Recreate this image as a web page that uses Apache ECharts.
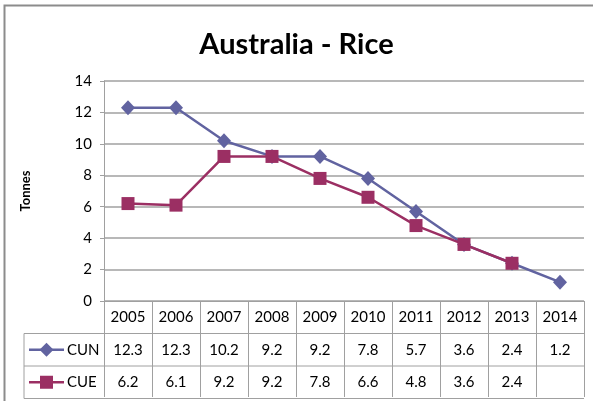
<!DOCTYPE html>
<html>
<head>
<meta charset="utf-8">
<script src="https://cdn.jsdelivr.net/npm/echarts@6/dist/echarts.min.js"></script>
<style>
  html, body { margin: 0; padding: 0; background: #ffffff; }
  #chart { width: 593px; height: 401px; }
</style>
</head>
<body>
<div id="chart"></div>
<script>
// Rice quantities for Australia, in tonnes
const years = ['2005', '2006', '2007', '2008', '2009', '2010', '2011', '2012', '2013', '2014'];
const cunValues = [12.3, 12.3, 10.2, 9.2, 9.2, 7.8, 5.7, 3.6, 2.4, 1.2];
const cueValues = [6.2, 6.1, 9.2, 9.2, 7.8, 6.6, 4.8, 3.6, 2.4, null];
const yTicks = [0, 2, 4, 6, 8, 10, 12, 14];

const CUN_COLOR = '#6163a0';
const CUE_COLOR = '#9b2f63';
const GRID_COLOR = '#a0a0a0';
const FONT = 'Lato, "Open Sans", sans-serif';

const chart = echarts.init(document.getElementById('chart'), null, { renderer: 'canvas' });

const gridLeft = 104, gridRight = 9, gridTop = 81, gridBottom = 100;

chart.setOption({
  animation: false,
  backgroundColor: '#ffffff',
  title: {
    text: 'Australia - Rice',
    left: 'center',
    top: 25,
    textStyle: { fontFamily: FONT, fontWeight: 'bold', fontSize: 29, color: '#000000' }
  },
  grid: { left: gridLeft, right: gridRight, top: gridTop, bottom: gridBottom, containLabel: false },
  xAxis: {
    type: 'category',
    data: years,
    boundaryGap: true,
    axisLine: { show: true, lineStyle: { color: GRID_COLOR, width: 1 } },
    axisTick: { show: true, length: 96, alignWithLabel: false, lineStyle: { color: GRID_COLOR, width: 1 } },
    axisLabel: { margin: 9, fontFamily: FONT, fontSize: 15, color: '#000000', interval: 0 }
  },
  yAxis: {
    type: 'value',
    min: yTicks[0],
    max: yTicks[yTicks.length - 1],
    interval: 2,
    name: 'Tonnes',
    nameLocation: 'middle',
    nameGap: 72,
    nameRotate: 90,
    nameTextStyle: { fontFamily: FONT, fontWeight: 'bold', fontSize: 13, color: '#000000' },
    axisLine: { show: true, lineStyle: { color: GRID_COLOR, width: 1 } },
    axisTick: { show: true, length: 4, lineStyle: { color: GRID_COLOR } },
    axisLabel: { margin: 12, fontFamily: FONT, fontSize: 15, color: '#000000' },
    splitLine: { show: true, lineStyle: { color: GRID_COLOR, width: 1.5 } }
  },
  series: [
    {
      name: 'CUN',
      type: 'line',
      data: cunValues,
      symbol: 'diamond',
      symbolSize: [14, 15],
      lineStyle: { color: CUN_COLOR, width: 2.5 },
      itemStyle: { color: CUN_COLOR },
      z: 2
    },
    {
      name: 'CUE',
      type: 'line',
      data: cueValues,
      symbol: 'rect',
      symbolSize: 13,
      connectNulls: false,
      lineStyle: { color: CUE_COLOR, width: 2.5 },
      itemStyle: { color: CUE_COLOR },
      z: 3
    }
  ]
});

// Data table under the axis: one row per series, with a legend key on the left
function buildTable() {
  const axisY = chart.convertToPixel({ yAxisIndex: 0 }, 0);
  const rowH = 32.5;
  const plotRight = 593 - gridRight;
  const keyLeft = 24;
  const rows = [
    { name: 'CUN', values: cunValues, color: CUN_COLOR, symbol: 'diamond' },
    { name: 'CUE', values: cueValues, color: CUE_COLOR, symbol: 'rect' }
  ];
  const elements = [];

  // outer frame of the chart area
  elements.push({
    type: 'rect', shape: { x: 4.5, y: 5.5, width: 600, height: 420 },
    style: { fill: null, stroke: '#8c8c8c', lineWidth: 2 }, silent: true
  });

  rows.forEach((row, r) => {
    const top = axisY + rowH * (r + 1);
    const mid = top + rowH / 2;
    // horizontal rule at the top of the row
    elements.push({
      type: 'line', shape: { x1: keyLeft, y1: top, x2: plotRight, y2: top },
      style: { stroke: GRID_COLOR, lineWidth: 1 }, silent: true
    });
    // values
    row.values.forEach((v, i) => {
      if (v === null) return;
      const x = chart.convertToPixel({ xAxisIndex: 0 }, years[i]);
      elements.push({
        type: 'text',
        style: {
          text: v.toFixed(1), x: x, y: mid, align: 'center', verticalAlign: 'middle',
          font: '15px ' + FONT, fill: '#000000'
        },
        silent: true
      });
    });
    // legend key: line with marker, then series name
    elements.push({
      type: 'line', shape: { x1: 29, y1: mid, x2: 64, y2: mid },
      style: { stroke: row.color, lineWidth: 2.5 }, silent: true
    });
    if (row.symbol === 'diamond') {
      elements.push({
        type: 'polygon', shape: { points: [[46.5, mid - 7], [53.5, mid], [46.5, mid + 7], [39.5, mid]] },
        style: { fill: row.color }, silent: true
      });
    } else {
      elements.push({
        type: 'rect', shape: { x: 40, y: mid - 6.5, width: 13, height: 13 },
        style: { fill: row.color }, silent: true
      });
    }
    elements.push({
      type: 'text',
      style: {
        text: row.name, x: 67, y: mid, align: 'left', verticalAlign: 'middle',
        font: '15px ' + FONT, fill: '#000000'
      },
      silent: true
    });
  });

  const bottom = axisY + rowH * 3;
  elements.push({
    type: 'line', shape: { x1: keyLeft, y1: bottom, x2: plotRight, y2: bottom },
    style: { stroke: GRID_COLOR, lineWidth: 1 }, silent: true
  });
  elements.push({
    type: 'line', shape: { x1: keyLeft, y1: axisY + rowH, x2: keyLeft, y2: bottom },
    style: { stroke: GRID_COLOR, lineWidth: 1 }, silent: true
  });

  chart.setOption({ graphic: { elements: elements } });
}

buildTable();
</script>
</body>
</html>
